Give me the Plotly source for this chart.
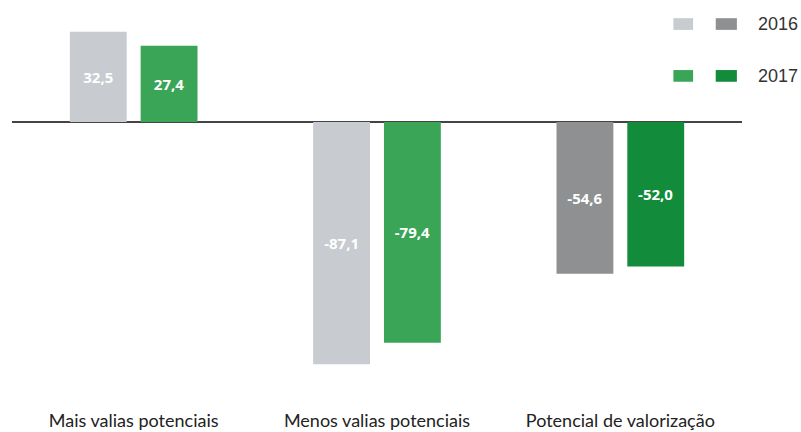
import plotly.graph_objects as go

categories = ["Mais valias potenciais", "Menos valias potenciais", "Potencial de valorização"]
values_2016 = [32.5, -87.1, -54.6]
values_2017 = [27.4, -79.4, -52.0]
labels_2016 = ["32,5", "-87,1", "-54,6"]
labels_2017 = ["27,4", "-79,4", "-52,0"]
years = ["2016", "2017"]

# the last category uses the darker shade of each year's colour
colors_2016 = ["#c8cbcf", "#c8cbcf", "#8e9091"]
colors_2017 = ["#3ba557", "#3ba557", "#128b3a"]
legend_swatches = [("#c8cbcf", "#8e9091"), ("#3ba557", "#128b3a")]

label_font = dict(family="Open Sans", size=15, color="white", weight="bold")

fig = go.Figure()
fig.add_trace(go.Bar(
    x=categories, y=values_2016, name=years[0], text=labels_2016,
    marker=dict(color=colors_2016, line=dict(width=0)),
    textposition="inside", insidetextanchor="middle",
    textfont=label_font, showlegend=False,
))
fig.add_trace(go.Bar(
    x=categories, y=values_2017, name=years[1], text=labels_2017,
    marker=dict(color=colors_2017, line=dict(width=0)),
    textposition="inside", insidetextanchor="middle",
    textfont=label_font, showlegend=False,
))

# hand-drawn legend with two shades per year
rows_y = [0.964, 0.831]
for (light, dark), year, ry in zip(legend_swatches, years, rows_y):
    for c, x0, x1 in [(light, 0.906, 0.933), (dark, 0.964, 0.993)]:
        fig.add_shape(type="rect", xref="paper", yref="paper",
                      x0=x0, x1=x1, y0=ry - 0.015, y1=ry + 0.015,
                      fillcolor=c, line=dict(width=0))
    fig.add_annotation(xref="paper", yref="paper", x=1.0195, y=ry,
                       xanchor="left", yanchor="middle",
                       text=year, showarrow=False,
                       font=dict(family="Liberation Sans", size=18, color="#333"))

fig.update_layout(
    width=801, height=432,
    margin=dict(l=12, r=59, t=10, b=32),
    paper_bgcolor="white", plot_bgcolor="white",
    barmode="group", bargap=0.418, bargroupgap=0.197,
    xaxis=dict(showgrid=False, showline=False, ticks="", automargin=False,
               tickfont=dict(family="Lato", size=18, color="#222"),
               ticklabelstandoff=8),
    yaxis=dict(range=[-100, 40.3], showgrid=False, showticklabels=False,
               automargin=False, zeroline=True, zerolinecolor="#444", zerolinewidth=2),
)

fig.write_html("out.html")
